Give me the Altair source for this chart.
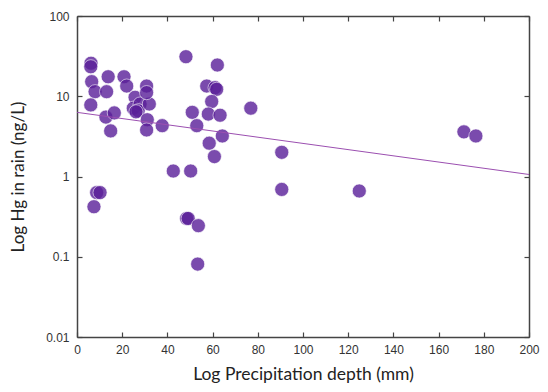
import altair as alt
import pandas as pd

precip = [6.2, 6.1, 6.5, 8.0, 6.1, 8.7, 10.2, 7.5, 13.8, 13.1, 12.8, 16.5, 14.9,
          20.8, 22.0, 25.7, 24.9, 27.9, 27.1, 26.1, 32.0, 30.8, 30.8, 31.1, 30.8,
          37.7, 48.2, 62.1, 57.4, 61.1, 61.8, 59.6, 51.0, 58.1, 63.3, 76.9, 53.0,
          64.3, 58.5, 60.8, 42.6, 50.3, 48.5, 49.2, 53.7, 53.4, 90.6, 90.6, 124.9,
          171.2, 176.5]
hg = [25.8, 23.3, 15.2, 11.4, 7.8, 0.63, 0.63, 0.42, 17.5, 11.4, 5.5, 6.2, 3.7,
      17.5, 13.4, 9.7, 7.1, 8.0, 6.6, 6.4, 8.0, 13.4, 11.1, 5.1, 3.8,
      4.3, 31.1, 24.5, 13.4, 12.8, 12.2, 8.6, 6.3, 6.0, 5.8, 7.1, 4.3,
      3.2, 2.6, 1.77, 1.17, 1.17, 0.30, 0.30, 0.244, 0.081, 2.0, 0.69, 0.66,
      3.6, 3.2]

trend_x = [0, 200]
trend_y = [6.3, 1.06]

x_ticks = [0, 20, 40, 60, 80, 100, 120, 140, 160, 180, 200]
y_ticks = [0.01, 0.1, 1, 10, 100]

pts = pd.DataFrame({"x": precip, "y": hg})
trend = pd.DataFrame({"x": trend_x, "y": trend_y})

xs = alt.Scale(domain=[0, 200], nice=False)
ys = alt.Scale(type="log", domain=[0.01, 100], nice=False)

label_font = "Liberation Sans"
title_font = "Lato"
frame = "#444444"

# points with labelled axes + bottom/left frame lines
points = alt.Chart(pts).mark_circle(
    size=200, color="#5a1f99", opacity=0.8, stroke="white", strokeWidth=1, strokeOpacity=0.7
).encode(
    x=alt.X("x:Q", scale=xs, axis=alt.Axis(
        values=x_ticks, ticks=False, domain=True, domainColor=frame, domainWidth=1.5,
        domainOpacity=1, grid=False,
        labelFont=label_font, labelFontSize=12, labelColor="#333", labelPadding=7,
        labelFlush=False, labelOverlap=False,
        title="Log Precipitation depth (mm)", titleFont=title_font, titleFontSize=17.5,
        titleFontWeight="normal", titleColor="#222", titlePadding=10)),
    y=alt.Y("y:Q", scale=ys, axis=alt.Axis(
        values=y_ticks, ticks=False, domain=True, domainColor=frame, domainWidth=1.5,
        domainOpacity=1, grid=False,
        labelFont=label_font, labelFontSize=12, labelColor="#333", labelPadding=8,
        labelFlush=False, labelOverlap=False,
        labelExpr="datum.value >= 1 ? format(datum.value, 'd') : format(datum.value, '')",
        title="Log Hg in rain (ng/L)", titleFont=title_font, titleFontSize=17,
        titleFontWeight="normal", titleColor="#222", titlePadding=18)),
)

# trend line; carries inward ticks on bottom/left
line = alt.Chart(trend).mark_line(color="#9b4fb0", strokeWidth=1, clip=True).encode(
    x=alt.X("x:Q", scale=xs, axis=alt.Axis(
        values=x_ticks, labels=False, domain=False, grid=False, title=None,
        ticks=True, tickSize=5, tickWidth=1.2, offset=-5, tickColor=frame,
        tickOpacity=1, orient="bottom")),
    y=alt.Y("y:Q", scale=ys, axis=alt.Axis(
        values=y_ticks, labels=False, domain=False, grid=False, title=None,
        ticks=True, tickSize=5, tickWidth=1.2, offset=-5, tickColor=frame,
        tickOpacity=1, orient="left")),
)

# invisible copies carrying top/right inward ticks and frame lines
mirror_ticks = alt.Chart(trend).mark_line(strokeOpacity=0).encode(
    x=alt.X("x:Q", scale=xs, axis=alt.Axis(
        values=x_ticks, labels=False, domain=False, grid=False, title=None,
        ticks=True, tickSize=5, tickWidth=1.2, offset=-5, tickColor=frame,
        tickOpacity=1, orient="top")),
    y=alt.Y("y:Q", scale=ys, axis=alt.Axis(
        values=y_ticks, labels=False, domain=False, grid=False, title=None,
        ticks=True, tickSize=5, tickWidth=1.2, offset=-5, tickColor=frame,
        tickOpacity=1, orient="right")),
)

mirror_frame = alt.Chart(trend).mark_line(strokeOpacity=0).encode(
    x=alt.X("x:Q", scale=xs, axis=alt.Axis(
        labels=False, domain=True, domainColor=frame, domainWidth=1.5, domainOpacity=1,
        grid=False, title=None, ticks=False, orient="top")),
    y=alt.Y("y:Q", scale=ys, axis=alt.Axis(
        labels=False, domain=True, domainColor=frame, domainWidth=1.5, domainOpacity=1,
        grid=False, title=None, ticks=False, orient="right")),
)

chart = alt.layer(points, line, mirror_ticks, mirror_frame).resolve_axis(
    x="independent", y="independent"
).properties(
    width=452, height=321,
    autosize=alt.AutoSizeParams(type="none"),
    padding={"left": 69, "top": 8, "right": 11, "bottom": 47},
).configure_view(
    stroke=None
)

chart.save("out.html", embed_options={"renderer": "svg", "actions": False})
